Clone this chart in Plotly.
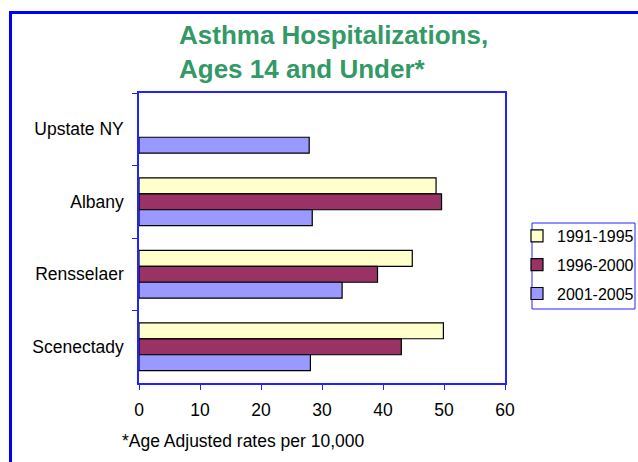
import plotly.graph_objects as go

categories = ["Upstate NY", "Albany", "Rensselaer", "Scenectady"]
series_names = ["1991-1995", "1996-2000", "2001-2005"]
v1991 = [None, 48.7, 44.8, 49.9]
v1996 = [None, 49.6, 39.1, 43.0]
v2001 = [27.9, 28.4, 33.3, 28.1]
x_ticks = [0, 10, 20, 30, 40, 50, 60]
colors = ["#FFFFCC", "#993366", "#9999FF"]

FONT = "Liberation Sans, Arial, sans-serif"
BLUE = "#2222FF"

PL, PR, PT, PB = 139, 505, 93, 383   # plot area in pixels
W = PR - PL
H = PB - PT


def px(p):
    return (p - PL) / W


def py(p):
    return (PB - p) / H


fig = go.Figure()
for i, (name, vals) in enumerate(zip(series_names, [v1991, v1996, v2001])):
    fig.add_trace(go.Bar(
        y=categories, x=vals, name=name, orientation="h",
        legendgroup=name,
        marker=dict(color=colors[i], line=dict(color="black", width=1.2)),
    ))

fig.update_layout(
    width=638, height=462,
    margin=dict(l=PL, r=638 - PR, t=PT, b=462 - PB, autoexpand=False),
    paper_bgcolor="white", plot_bgcolor="white",
    barmode="group", bargap=0.34, bargroupgap=0,
    font=dict(family=FONT, size=17.5, color="black"),
    showlegend=True,
    legend=dict(
        x=px(517), y=py(219), xanchor="left", yanchor="top",
        borderwidth=0, bgcolor="rgba(0,0,0,0)", traceorder="grouped",
        tracegroupgap=5, font=dict(size=16),
        itemwidth=30,
    ),
    xaxis=dict(
        range=[0, 60], tickvals=x_ticks, ticks="outside", ticklen=5,
        tickcolor=BLUE, showline=True, linecolor=BLUE, linewidth=1.5,
        mirror=True, showgrid=False, zeroline=False,
        ticklabelstandoff=5, fixedrange=True,
    ),
    yaxis=dict(
        autorange="reversed", ticks="outside", ticklen=5, tickson="boundaries",
        tickcolor=BLUE, showline=True, linecolor=BLUE, linewidth=1.5,
        mirror=True, showgrid=False, ticklabelstandoff=10,
    ),
)

# outer frame
fig.add_shape(type="rect", xref="paper", yref="paper",
              x0=px(10.5), x1=px(660), y0=py(480), y1=py(12.5),
              line=dict(color="#0000FF", width=3), layer="below")
# legend box
fig.add_shape(type="rect", xref="paper", yref="paper",
              x0=px(532), x1=px(635), y0=py(309), y1=py(223),
              line=dict(color=BLUE, width=1), layer="below")

fig.add_annotation(
    text="<b>Asthma Hospitalizations,<br>Ages 14 and Under*</b>",
    xref="paper", yref="paper", x=px(177), y=py(18),
    xanchor="left", yanchor="top", align="left", showarrow=False,
    font=dict(family=FONT, size=26, color="#339966"),
)
fig.add_annotation(
    text="*Age Adjusted rates per 10,000",
    xref="paper", yref="paper", x=px(120), y=py(441),
    xanchor="left", yanchor="middle", showarrow=False,
    font=dict(family=FONT, size=17.5, color="black"),
)

fig.write_html(
    "out.html",
    config={"displayModeBar": False},
    post_script="document.body.style.margin='0';document.body.style.overflow='hidden';",
)
